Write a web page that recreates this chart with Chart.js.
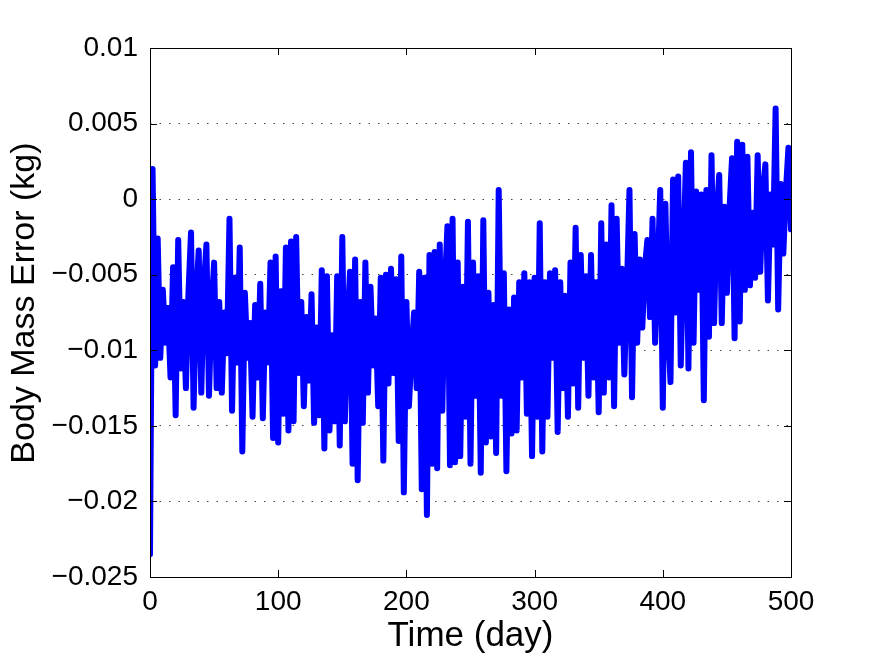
<!DOCTYPE html>
<html>
<head>
<meta charset="utf-8">
<script src="https://cdn.jsdelivr.net/npm/chart.js@4"></script>
<style>
  body { margin: 0; background: #fff; }
  #wrap { width: 873px; height: 657px; }
</style>
</head>
<body>
<div id="wrap"><canvas id="massChart" width="873" height="657"></canvas></div>
<script>
// jours (axe x)
const days = [
  0, 2, 4, 6, 8, 10, 12, 14, 16, 18, 20, 22, 24, 26, 28, 30, 32, 34, 36, 38, 40, 42, 44, 46, 48,
  50, 52, 54, 56, 58, 60, 62, 64, 66, 68, 70, 72, 74, 76, 78, 80, 82, 84, 86, 88, 90, 92, 94, 96, 98,
  100, 102, 104, 106, 108, 110, 112, 114, 116, 118, 120, 122, 124, 126, 128, 130, 132, 134, 136, 138, 140, 142, 144, 146, 148,
  150, 152, 154, 156, 158, 160, 162, 164, 166, 168, 170, 172, 174, 176, 178, 180, 182, 184, 186, 188, 190, 192, 194, 196, 198,
  200, 202, 204, 206, 208, 210, 212, 214, 216, 218, 220, 222, 224, 226, 228, 230, 232, 234, 236, 238, 240, 242, 244, 246, 248,
  250, 252, 254, 256, 258, 260, 262, 264, 266, 268, 270, 272, 274, 276, 278, 280, 282, 284, 286, 288, 290, 292, 294, 296, 298,
  300, 302, 304, 306, 308, 310, 312, 314, 316, 318, 320, 322, 324, 326, 328, 330, 332, 334, 336, 338, 340, 342, 344, 346, 348,
  350, 352, 354, 356, 358, 360, 362, 364, 366, 368, 370, 372, 374, 376, 378, 380, 382, 384, 386, 388, 390, 392, 394, 396, 398,
  400, 402, 404, 406, 408, 410, 412, 414, 416, 418, 420, 422, 424, 426, 428, 430, 432, 434, 436, 438, 440, 442, 444, 446, 448,
  450, 452, 454, 456, 458, 460, 462, 464, 466, 468, 470, 472, 474, 476, 478, 480, 482, 484, 486, 488, 490, 492, 494, 496, 498,
  500
];

// erreur de masse (kg)
const massError = [
  -0.0235, 0.0020, -0.0110, -0.0026, -0.0105, -0.0060, -0.0095, -0.0072, -0.0118, -0.0045, -0.0143, -0.0027, -0.0112, -0.0068, -0.0125, -0.0062, -0.0022, -0.0138, -0.0065, -0.0034, -0.0128, -0.0058, -0.0030, -0.0130, -0.0072,
  -0.0042, -0.0125, -0.0068, -0.0128, -0.0075, -0.0102, -0.0013, -0.0140, -0.0052, -0.0108, -0.0032, -0.0167, -0.0062, -0.0105, -0.0082, -0.0144, -0.0070, -0.0118, -0.0056, -0.0145, -0.0075, -0.0108, -0.0042, -0.0158, -0.0038,
  -0.0161, -0.0061, -0.0142, -0.0032, -0.0153, -0.0028, -0.0147, -0.0025, -0.0115, -0.0068, -0.0137, -0.0078, -0.0120, -0.0063, -0.0148, -0.0085, -0.0143, -0.0047, -0.0165, -0.0051, -0.0153, -0.0090, -0.0147, -0.0051, -0.0163,
  -0.0025, -0.0147, -0.0085, -0.0048, -0.0175, -0.0040, -0.0186, -0.0068, -0.0148, -0.0042, -0.0128, -0.0058, -0.0110, -0.0079, -0.0137, -0.0052, -0.0173, -0.0050, -0.0122, -0.0046, -0.0115, -0.0053, -0.0160, -0.0038, -0.0194,
  -0.0068, -0.0137, -0.0100, -0.0075, -0.0125, -0.0048, -0.0192, -0.0052, -0.0209, -0.0037, -0.0175, -0.0035, -0.0178, -0.0030, -0.0140, -0.0058, -0.0018, -0.0176, -0.0013, -0.0174, -0.0042, -0.0170, -0.0058, -0.0144, -0.0015,
  -0.0175, -0.0042, -0.0130, -0.0051, -0.0181, -0.0014, -0.0161, -0.0062, -0.0157, -0.0070, -0.0168, 0.0006, -0.0130, -0.0049, -0.0180, -0.0073, -0.0155, -0.0065, -0.0153, -0.0055, -0.0118, -0.0049, -0.0142, -0.0055, -0.0170,
  -0.0052, -0.0144, -0.0016, -0.0167, -0.0055, -0.0144, -0.0049, -0.0105, -0.0047, -0.0154, -0.0055, -0.0125, -0.0064, -0.0144, -0.0042, -0.0122, -0.0019, -0.0138, -0.0037, -0.0105, -0.0051, -0.0130, -0.0037, -0.0118, -0.0055,
  -0.0141, -0.0016, -0.0128, -0.0030, -0.0118, -0.0004, -0.0137, -0.0013, -0.0095, -0.0046, -0.0116, -0.0060, 0.0006, -0.0131, -0.0023, -0.0095, -0.0040, -0.0085, -0.0045, -0.0027, -0.0078, -0.0013, -0.0095, -0.0048, 0.0006,
  -0.0138, -0.0003, -0.0083, -0.0121, 0.0013, -0.0075, 0.0015, -0.0110, -0.0040, 0.0024, -0.0112, 0.0031, -0.0095, 0.0005, -0.0060, 0.0003, -0.0133, 0.0006, -0.0091, 0.0029, -0.0082, -0.0010, 0.0016, -0.0082, -0.0005,
  -0.0062, -0.0007, 0.0027, -0.0092, 0.0038, -0.0081, 0.0036, -0.0060, 0.0028, -0.0057, -0.0009, -0.0052, 0.0029, -0.0048, 0.0005, 0.0023, -0.0067, 0.0003, -0.0030, 0.0060, -0.0073, 0.0010, -0.0036, 0.0005, 0.0034,
  -0.0020
];

const xTicks = [0, 100, 200, 300, 400, 500];
const yTicks = [-0.025, -0.02, -0.015, -0.01, -0.005, 0, 0.005, 0.01];
const yTickLabels = ['\u22120.025', '\u22120.02', '\u22120.015', '\u22120.01', '\u22120.005', '0', '0.005', '0.01'];

const fontName = '"Liberation Sans", Arial, Helvetica, sans-serif';

// cadre noir + petites graduations vers l'intérieur (style MATLAB)
const boxPlugin = {
  id: 'boxPlugin',
  afterDraw(chart) {
    const {ctx, chartArea: a, scales: {x, y}} = chart;
    const len = 7;
    ctx.save();
    ctx.strokeStyle = '#000';
    ctx.lineWidth = 1;
    ctx.strokeRect(Math.round(a.left) + 0.5, Math.round(a.top) + 0.5, Math.round(a.right - a.left), Math.round(a.bottom - a.top));
    ctx.beginPath();
    x.ticks.forEach((t, i) => {
      const px = Math.round(x.getPixelForTick(i)) + 0.5;
      ctx.moveTo(px, a.bottom); ctx.lineTo(px, a.bottom - len);
      ctx.moveTo(px, a.top); ctx.lineTo(px, a.top + len);
    });
    y.ticks.forEach((t, i) => {
      const py = Math.round(y.getPixelForTick(i)) + 0.5;
      ctx.moveTo(a.left, py); ctx.lineTo(a.left + len, py);
      ctx.moveTo(a.right, py); ctx.lineTo(a.right - len, py);
    });
    ctx.stroke();
    ctx.restore();
  }
};

const ctx = document.getElementById('massChart').getContext('2d');
new Chart(ctx, {
  type: 'line',
  data: {
    datasets: [{
      data: days.map((d, i) => ({x: d, y: massError[i]})),
      borderColor: '#0000ff',
      borderWidth: 6,
      pointRadius: 0,
      tension: 0,
      borderJoinStyle: 'round',
      borderCapStyle: 'round'
    }]
  },
  options: {
    responsive: false,
    animation: false,
    layout: { padding: { left: 0, top: 48, right: 82, bottom: 0 } },
    plugins: { legend: { display: false }, tooltip: { enabled: false } },
    scales: {
      x: {
        type: 'linear',
        min: 0,
        max: 500,
        afterBuildTicks: (scale) => { scale.ticks = xTicks.map(v => ({value: v})); },
        afterFit: (scale) => { scale.height = 80; },
        grid: { display: false, drawTicks: false },
        border: { display: false },
        ticks: {
          color: '#000',
          padding: 8,
          maxRotation: 0,
          font: { family: fontName, size: 28 }
        },
        title: {
          display: true,
          text: 'Time (day)',
          color: '#000',
          padding: { top: 0, bottom: 0 },
          font: { family: fontName, size: 35 }
        }
      },
      y: {
        type: 'linear',
        min: -0.025,
        max: 0.01,
        afterBuildTicks: (scale) => { scale.ticks = yTicks.map(v => ({value: v})); },
        afterFit: (scale) => { scale.width = 150; },
        grid: { color: '#444', lineWidth: 1, drawTicks: false },
        border: { display: false, dash: [1.5, 8] },
        ticks: {
          color: '#000',
          padding: 12,
          font: { family: fontName, size: 28 },
          callback: (v, i) => yTickLabels[i]
        },
        title: {
          display: true,
          text: '\u00a0\u00a0Body Mass Error (kg)',
          color: '#000',
          padding: { top: 4, bottom: 0 },
          font: { family: fontName, size: 34 }
        }
      }
    }
  },
  plugins: [boxPlugin]
});
</script>
</body>
</html>
